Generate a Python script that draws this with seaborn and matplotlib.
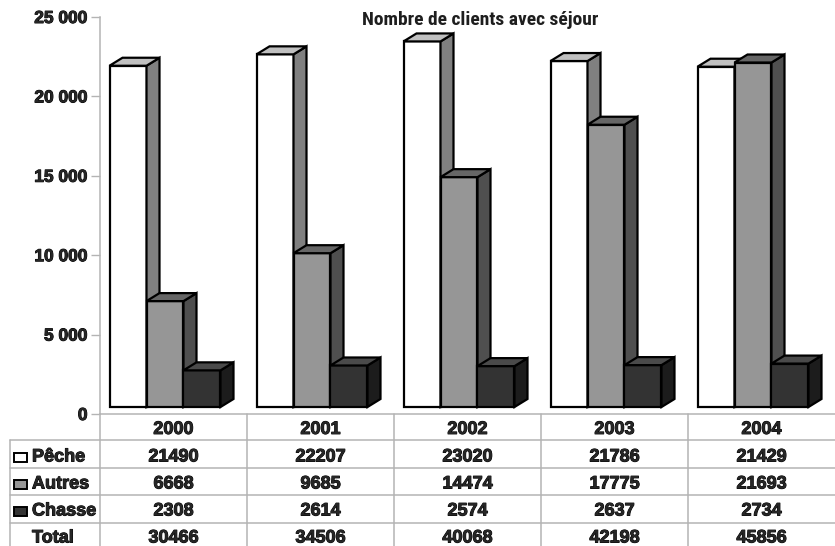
import matplotlib
matplotlib.use("Agg")
import matplotlib.pyplot as plt
import matplotlib.patheffects as pe
import seaborn as sns
import pandas as pd
from matplotlib.transforms import ScaledTranslation, IdentityTransform, blended_transform_factory
from matplotlib.patches import Polygon, Rectangle
from matplotlib.lines import Line2D
from matplotlib.ticker import FuncFormatter

# ---- data ----
years = ["2000", "2001", "2002", "2003", "2004"]
series = ["Pêche", "Autres", "Chasse"]
peche = [21490, 22207, 23020, 21786, 21429]
autres = [6668, 9685, 14474, 17775, 21693]
chasse = [2308, 2614, 2574, 2637, 2734]
total = [30466, 34506, 40068, 42198, 45856]
y_ticks = [0, 5000, 10000, 15000, 20000, 25000]
title = "Nombre de clients avec séjour"

front_colors = ["#ffffff", "#969696", "#333333"]
side_colors = ["#808080", "#4f4f4f", "#1c1c1c"]
top_colors = ["#c0c0c0", "#666666", "#4a4a4a"]

sns.set_theme(style="white")
plt.rcParams["font.family"] = ["Liberation Sans", "DejaVu Sans"]
plt.rcParams["font.weight"] = "bold"

heavy = [pe.withStroke(linewidth=0.7, foreground="black")]

W, H = 835, 546
fig = plt.figure(figsize=(W / 100, H / 100), dpi=100)
ax = fig.add_axes([100 / W, 1 - 414 / H, 735 / W, (414 - 17) / H])

df = pd.DataFrame({
    "Année": years * 3,
    "Série": [s for s in series for _ in years],
    "Valeur": peche + autres + chasse,
})

sns.barplot(data=df, x="Année", y="Valeur", hue="Série", order=years,
            hue_order=series, palette=front_colors, saturation=1,
            width=0.755, gap=0, edgecolor="black", linewidth=1.6,
            legend=False, errorbar=None, ax=ax)

ax.set_xlim(-0.5, len(years) - 0.5)
ax.set_ylim(0, 25000)
ax.autoscale(False)
ax.set_xlabel("")
ax.set_ylabel("")

# ---- pseudo 3D faces ----
DX, DY = 13, 8  # pixel depth
off = ScaledTranslation(-8.5 / 100, 7 / 100, fig.dpi_scale_trans)
tr = ax.transData + off
n = len(years)
for j, p in enumerate(list(ax.patches)):
    k = j // n
    p.set_transform(tr)
    p.set_zorder(2 + k)
    p.set_joinstyle("miter")
    x0, y0 = p.get_x(), p.get_y()
    x1, y1 = x0 + p.get_width(), y0 + p.get_height()
    (X0, Y0), (X1, Y1) = tr.transform([(x0, y0), (x1, y1)])
    side = Polygon([(X1, Y0), (X1 + DX, Y0 + DY), (X1 + DX, Y1 + DY), (X1, Y1)],
                   closed=True, fc=side_colors[k], ec="black", lw=1.6,
                   transform=IdentityTransform(), zorder=2 + k + 0.5,
                   clip_on=False, joinstyle="miter")
    top = Polygon([(X0, Y1), (X1, Y1), (X1 + DX, Y1 + DY), (X0 + DX, Y1 + DY)],
                  closed=True, fc=top_colors[k], ec="black", lw=1.6,
                  transform=IdentityTransform(), zorder=2 + k + 0.5,
                  clip_on=False, joinstyle="miter")
    ax.add_artist(side)
    ax.add_artist(top)

# ---- axes styling ----
grid_c = "#b4b4b4"
for s in ["top", "right"]:
    ax.spines[s].set_visible(False)
for s in ["left", "bottom"]:
    ax.spines[s].set_color(grid_c)
    ax.spines[s].set_linewidth(1.1)
ax.set_yticks(y_ticks)
ax.yaxis.set_major_formatter(FuncFormatter(lambda v, pos: f"{int(v):,}".replace(",", " ")))
ax.tick_params(axis="y", left=True, length=6.5, width=1, color=grid_c, pad=2.5,
               labelsize=12.5)
ax.set_xticks(range(n))
ax.set_xticklabels(years)
ax.tick_params(axis="x", length=0, pad=5, labelsize=13)
for lab in ax.get_xticklabels() + ax.get_yticklabels():
    lab.set_fontweight("bold")
    lab.set_path_effects(heavy)

# ---- title ----
fig.text(480 / W, 1 - 25 / H, title, ha="center", va="baseline", fontsize=14,
         family=["Roboto Condensed", "Liberation Sans", "DejaVu Sans"],
         fontweight="bold", color="#1e1e1e")

# ---- data table ----
def fy(py):
    return 1 - py / H

bt = blended_transform_factory(ax.transData, fig.transFigure)
row_lines = [440, 467.5, 495, 522.5]
for y in row_lines:
    fig.add_artist(Line2D([10 / W, 1], [fy(y), fy(y)], color=grid_c, lw=1.1))
fig.add_artist(Line2D([10 / W, 10 / W], [fy(440), 0], color=grid_c, lw=1.1))
fig.add_artist(Line2D([100 / W, 100 / W], [fy(414), 0], color=grid_c, lw=1.1))
for i in range(n - 1):
    ax.add_artist(Line2D([i + 0.5, i + 0.5], [fy(414), 0], color=grid_c, lw=1.1,
                         transform=bt, clip_on=False))

rows = [("Pêche", peche, 461.5), ("Autres", autres, 488.5),
        ("Chasse", chasse, 515.5), ("Total", total, 542.5)]
for r, (name, vals, base) in enumerate(rows):
    fig.text(32 / W, fy(base), name, ha="left", va="baseline", fontsize=13,
             fontweight="bold", path_effects=heavy)
    if r < 3:
        fig.add_artist(Rectangle((13.5 / W, fy(base)), 13.5 / W, 8.5 / H,
                                 transform=fig.transFigure, fc=front_colors[r],
                                 ec="black", lw=1.4))
    for i, v in enumerate(vals):
        ax.text(i, fy(base), str(v), transform=bt, ha="center", va="baseline",
                fontsize=13, fontweight="bold", clip_on=False, path_effects=heavy)

fig.savefig("out.png", dpi=100)
